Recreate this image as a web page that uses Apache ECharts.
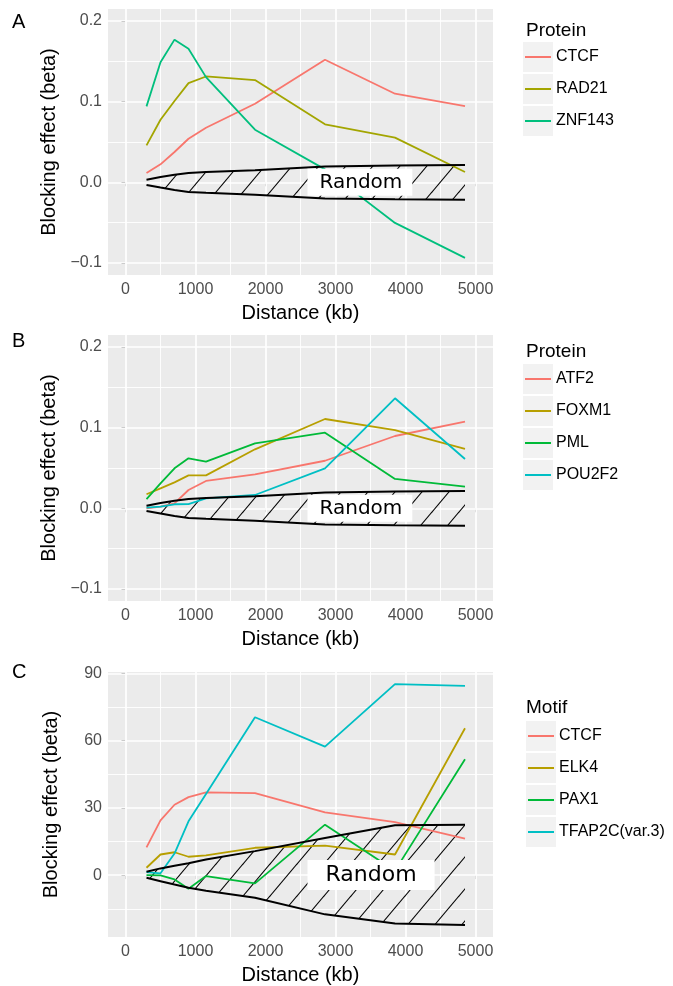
<!DOCTYPE html>
<html>
<head>
<meta charset="utf-8">
<script src="https://cdn.jsdelivr.net/npm/echarts@6/dist/echarts.min.js"></script>
<style>
  html, body { margin: 0; padding: 0; background: #fff; }
  #chart { width: 673px; height: 986px; }
</style>
</head>
<body>
<div id="chart"></div>
<script>
// distance bins (kb), shared by all panels
const distance = [300, 500, 700, 900, 1150, 1850, 2850, 3850, 4850];

// panel A - proteins
const ctcfA  = [0.0116, 0.0223, 0.0376, 0.054, 0.0677, 0.0975, 0.152, 0.1099, 0.0946];
const rad21  = [0.0458, 0.0776, 0.1008, 0.123, 0.1313, 0.1268, 0.0719, 0.0554, 0.0128];
const znf143 = [0.0942, 0.149, 0.177, 0.1656, 0.1305, 0.0653, 0.016, -0.0504, -0.0938];

// panel B - proteins
const atf2   = [0.0, 0.002, 0.006, 0.0227, 0.0339, 0.0422, 0.059, 0.0897, 0.1075];
const foxm1  = [0.0174, 0.0248, 0.0322, 0.0409, 0.0409, 0.0732, 0.1108, 0.0971, 0.0736];
const pml    = [0.0115, 0.031, 0.0496, 0.062, 0.0578, 0.0806, 0.0938, 0.0364, 0.0268];
const pou2f2 = [0.0008, 0.002, 0.005, 0.0053, 0.0124, 0.0165, 0.0496, 0.1365, 0.0612];

// random band (protein panels)
const randomHiP = [0.0033, 0.0065, 0.0095, 0.0116, 0.0128, 0.015, 0.0195, 0.021, 0.0215];
const randomLoP = [-0.0033, -0.0065, -0.0095, -0.012, -0.013, -0.0153, -0.0202, -0.021, -0.0215];

// panel C - motifs
const ctcfC  = [12.4, 24.4, 31.4, 34.8, 36.9, 36.6, 28.0, 23.6, 16.3];
const elk4   = [3.3, 9.2, 10.2, 8.2, 8.8, 12.2, 13.2, 9.2, 65.5];
const pax1   = [0, -0.1, -1.9, -6.1, -0.4, -3.7, 22.5, 2.0, 51.7];
const tfap2c = [1.3, 0.8, 9.6, 24, 36.2, 70.4, 57.3, 85.2, 84.4];

// random band (motif panel)
const randomHiM = [1.5, 3.0, 4.2, 5.3, 7.0, 10.7, 16.6, 22.2, 22.5];
const randomLoM = [-1.2, -2.7, -4.2, -5.6, -7.0, -10.1, -17.5, -21.6, -22.2];

// ticks
const xTicks = [0, 1000, 2000, 3000, 4000, 5000];
const xMinor = [500, 1500, 2500, 3500, 4500];
const yTicksP = [-0.1, 0, 0.1, 0.2];
const yMinorP = [-0.05, 0.05, 0.15];
const yTicksM = [0, 30, 60, 90];
const yMinorM = [-15, 15, 45, 75];

const randomLabelAt = [2600, 0];

const SANS = 'Liberation Sans, Arial, sans-serif';

const panels = [
  { letter: 'A', top: 9, letterTop: 12, legendTitle: 'Protein', titleTop: 21, legendTop: 47, legendLeft: 525, boxLeft: 523,
    names: ['CTCF', 'RAD21', 'ZNF143'], values: [ctcfA, rad21, znf143],
    colors: ['#F8766D', '#A3A500', '#00BF7D'],
    hi: randomHiP, lo: randomLoP, yMin: -0.115, yMax: 0.215, yTicks: yTicksP, yMinor: yMinorP,
    labelSize: 20, labelPad: [4, 10, 3, 12] },
  { letter: 'B', top: 335, letterTop: 331, legendTitle: 'Protein', titleTop: 342, legendTop: 369, legendLeft: 525, boxLeft: 523,
    names: ['ATF2', 'FOXM1', 'PML', 'POU2F2'], values: [atf2, foxm1, pml, pou2f2],
    colors: ['#F8766D', '#B79F00', '#00BA38', '#00BFC4'],
    hi: randomHiP, lo: randomLoP, yMin: -0.115, yMax: 0.215, yTicks: yTicksP, yMinor: yMinorP,
    labelSize: 20, labelPad: [4, 10, 3, 12] },
  { letter: 'C', top: 672, letterTop: 662, legendTitle: 'Motif', titleTop: 698, legendTop: 726, legendLeft: 528, boxLeft: 526,
    names: ['CTCF', 'ELK4', 'PAX1', 'TFAP2C(var.3)'], values: [ctcfC, elk4, pax1, tfap2c],
    colors: ['#F8766D', '#B79F00', '#00BA38', '#00BFC4'],
    hi: randomHiM, lo: randomLoM, yMin: -27.6, yMax: 90.6, yTicks: yTicksM, yMinor: yMinorM,
    labelSize: 22, labelPad: [4, 18, 4, 18] }
];

// diagonal hatch tile
function hatchTile() {
  const w = 27, h = 32;
  const c = document.createElement('canvas');
  c.width = w; c.height = h;
  const ctx = c.getContext('2d');
  ctx.strokeStyle = '#000';
  ctx.lineWidth = 1.1;
  [-w, 0, w].forEach(off => {
    ctx.beginPath();
    ctx.moveTo(off - w, 2 * h);
    ctx.lineTo(off + 2 * w, -h);
    ctx.stroke();
  });
  return c;
}
const hatch = hatchTile();

const option = {
  animation: false,
  backgroundColor: '#fff',
  title: [],
  grid: [],
  xAxis: [],
  yAxis: [],
  legend: [],
  series: [],
  graphic: []
};

panels.forEach((p, i) => {
  const isP = p.yMax < 1;
  option.grid.push({ left: 108, width: 385, top: p.top, height: 266, show: true,
    backgroundColor: '#EBEBEB', borderWidth: 0 });

  option.title.push({ text: p.letter, left: 12, top: p.letterTop, padding: 0,
    textStyle: { fontFamily: SANS, fontSize: 20, fontWeight: 'normal', color: '#000', lineHeight: 20 } });
  option.title.push({ text: p.legendTitle, left: 526, top: p.titleTop, padding: 0,
    textStyle: { fontFamily: SANS, fontSize: 19, fontWeight: 'normal', color: '#000', lineHeight: 20 } });

  option.xAxis.push({
    type: 'value', gridIndex: i, min: -250, max: 5250,
    name: 'Distance (kb)', nameLocation: 'middle', nameGap: 28,
    nameTextStyle: { fontFamily: SANS, fontSize: 20, color: '#000', lineHeight: 20 },
    axisLine: { show: false },
    axisTick: { show: true, length: 4, customValues: xTicks, lineStyle: { color: '#333', width: 1 } },
    axisLabel: { customValues: xTicks, margin: 7, fontFamily: SANS, fontSize: 16, color: '#4D4D4D',
      formatter: v => String(Math.round(v)) },
    splitLine: { show: false }
  });
  option.yAxis.push({
    type: 'value', gridIndex: i, min: p.yMin, max: p.yMax,
    name: 'Blocking effect (beta)', nameLocation: 'middle', nameGap: 47,
    nameTextStyle: { fontFamily: SANS, fontSize: 20, color: '#000', lineHeight: 20 },
    axisLine: { show: false },
    axisTick: { show: true, length: 4, customValues: p.yTicks, lineStyle: { color: '#333', width: 1 } },
    axisLabel: {
      customValues: p.yTicks, margin: 6, fontFamily: SANS, fontSize: 16, color: '#4D4D4D',
      formatter: v => {
        const s = isP ? Math.abs(v).toFixed(1) : String(Math.abs(Math.round(v)));
        return (v < -1e-9 ? '\u2212' : '') + s;
      }
    },
    splitLine: { show: false }
  });

  // grid lines (ggplot style, major + minor)
  const gridLines = []
    .concat(xTicks.map(v => ({ xAxis: v, lineStyle: { width: 1.7 } })))
    .concat(xMinor.map(v => ({ xAxis: v, lineStyle: { width: 0.9 } })))
    .concat(p.yTicks.map(v => ({ yAxis: v, lineStyle: { width: 1.7 } })))
    .concat(p.yMinor.map(v => ({ yAxis: v, lineStyle: { width: 0.9 } })));

  // hatched random band
  option.series.push({
    type: 'custom', name: 'band' + i, xAxisIndex: i, yAxisIndex: i, z: 2, silent: true, clip: true,
    data: distance.map((d, k) => [d, p.lo[k], p.hi[k]]),
    renderItem: (params, api) => {
      if (params.dataIndex !== 0) return;
      const upper = distance.map((d, k) => api.coord([d, p.hi[k]]));
      const lower = distance.map((d, k) => api.coord([d, p.lo[k]])).reverse();
      return {
        type: 'polygon',
        shape: { points: upper.concat(lower) },
        style: { fill: { image: hatch, repeat: 'repeat' }, stroke: null }
      };
    },
    markLine: {
      silent: true, z: 1, symbol: ['none', 'none'], animation: false,
      label: { show: false }, emphasis: { disabled: true },
      lineStyle: { color: '#fff', type: 'solid' },
      data: gridLines
    }
  });

  p.names.forEach((name, k) => {
    option.series.push({
      type: 'line', name: name, xAxisIndex: i, yAxisIndex: i, z: 2, silent: true,
      data: distance.map((d, j) => [d, p.values[k][j]]),
      showSymbol: false, symbol: 'none',
      lineStyle: { width: 1.8, color: p.colors[k] },
      itemStyle: { color: p.colors[k] }
    });
  });

  [p.hi, p.lo].forEach((arr, k) => {
    option.series.push({
      type: 'line', name: 'random' + i + '_' + k, xAxisIndex: i, yAxisIndex: i, z: 3, silent: true,
      data: distance.map((d, j) => [d, arr[j]]),
      showSymbol: false, symbol: 'none',
      lineStyle: { width: 2, color: '#000' }, itemStyle: { color: '#000' }
    });
  });

  option.series.push({
    type: 'scatter', name: 'randomLabel' + i, xAxisIndex: i, yAxisIndex: i, z: 5, silent: true,
    symbolSize: 0, data: [randomLabelAt],
    itemStyle: { opacity: 1 },
    label: {
      show: true, position: 'right', distance: 0, formatter: 'Random', opacity: 1,
      fontFamily: 'DejaVu Sans', fontSize: p.labelSize, lineHeight: p.labelSize,
      color: '#000', backgroundColor: '#fff', padding: p.labelPad
    }
  });

  option.legend.push({
    data: p.names, orient: 'vertical', left: p.legendLeft, top: p.legendTop, padding: 0,
    itemGap: 12, itemWidth: 26, itemHeight: 2, icon: 'rect', selectedMode: false,
    textStyle: { fontFamily: SANS, fontSize: 16, color: '#000', lineHeight: 20 }
  });

  // grey legend key boxes
  p.names.forEach((name, k) => {
    option.graphic.push({
      type: 'rect', z: -1, silent: true,
      shape: { x: p.boxLeft, y: p.legendTop + 10 + k * 32 - 15, width: 30, height: 30 },
      style: { fill: '#F2F2F2' }
    });
  });
});

const chart = echarts.init(document.getElementById('chart'), null, { renderer: 'canvas' });
chart.setOption(option);
</script>
</body>
</html>
